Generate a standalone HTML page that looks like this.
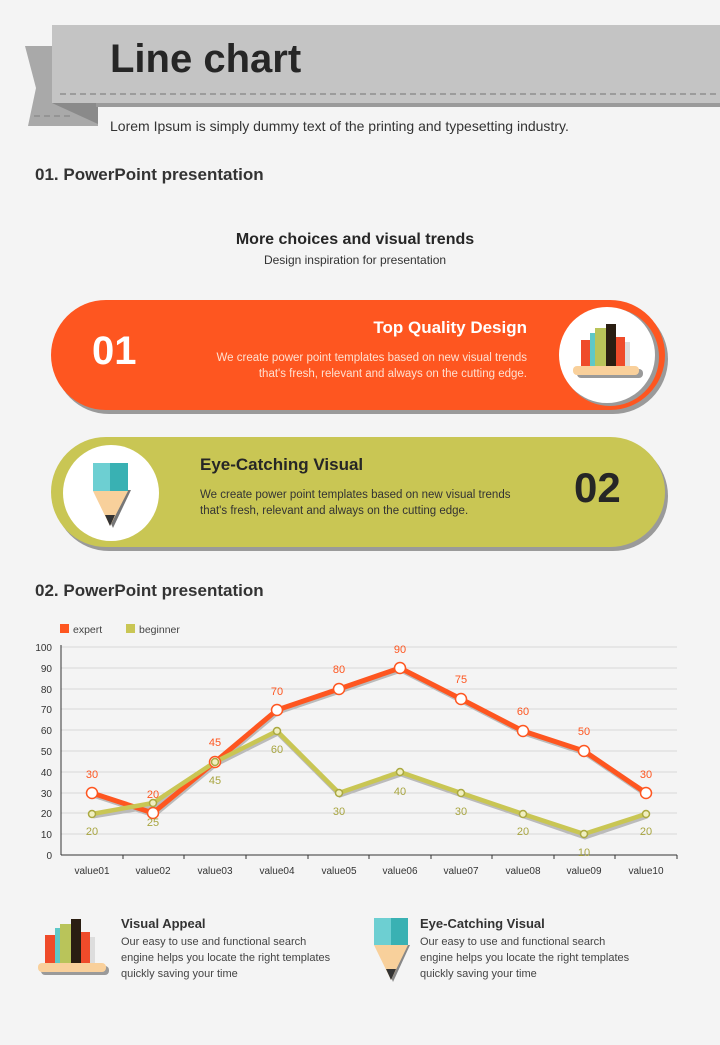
<!DOCTYPE html>
<html><head><meta charset="utf-8"><style>
body{margin:0;width:720px;height:1040px;background:#f4f4f4;font-family:"Liberation Sans",sans-serif;overflow:hidden}
</style></head><body>
<svg width="720" height="1040" xmlns="http://www.w3.org/2000/svg" font-family="Liberation Sans, sans-serif">
<rect width="720" height="1040" fill="#f4f4f4"/>
<!-- header ribbon -->
<polygon points="25,46 52,46 52,103 98,103 98,126 28,126 36,88" fill="#a9a9a9"/>
<polygon points="52,103 98,103 98,124" fill="#8a8a8a"/>
<rect x="52" y="25" width="668" height="78" fill="#c4c4c4"/>
<rect x="96" y="103" width="624" height="4" fill="#9a9a9a"/>
<line x1="60" y1="94" x2="720" y2="94" stroke="#8e8e8e" stroke-width="1.5" stroke-dasharray="6,4"/>
<line x1="34" y1="116" x2="72" y2="116" stroke="#8e8e8e" stroke-width="1.5" stroke-dasharray="6,4"/>
<text x="110" y="72" font-size="40" font-weight="bold" fill="#262626">Line chart</text>
<text x="110" y="131" font-size="14" fill="#333">Lorem Ipsum is simply dummy text of the printing and typesetting industry.</text>
<text x="35" y="180" font-size="17" font-weight="bold" fill="#333">01. PowerPoint presentation</text>
<text x="355" y="244" font-size="16" font-weight="bold" fill="#262626" text-anchor="middle">More choices and visual trends</text>
<text x="355" y="264" font-size="12" fill="#333" text-anchor="middle">Design inspiration for presentation</text>
<!-- pill 1 -->
<rect x="54" y="304" width="614" height="110" rx="55" fill="#9a9a9a"/>
<rect x="51" y="300" width="614" height="110" rx="55" fill="#fe5620"/>
<circle cx="610" cy="357" r="49" fill="#9a9a9a"/>
<circle cx="607" cy="355" r="48" fill="#fff"/>
<rect x="577" y="369" width="66" height="9" rx="4" fill="#9a9a9a"/>
<rect x="573" y="366" width="66" height="9" rx="4" fill="#f9d09b"/>
<rect x="581" y="340" width="12" height="26" fill="#ef4b2a"/>
<rect x="590" y="333" width="6" height="33" fill="#5ec8c8"/>
<rect x="595" y="328" width="11" height="38" fill="#b9c45a"/>
<rect x="606" y="324" width="10" height="42" fill="#2a1e12"/>
<rect x="616" y="337" width="9" height="29" fill="#ef4b2a"/>
<rect x="625" y="342" width="5" height="24" fill="#ddd"/>
<text x="92" y="364" font-size="40" font-weight="bold" fill="#fff">01</text>
<text x="527" y="333" font-size="17" font-weight="bold" fill="#fff" text-anchor="end">Top Quality Design</text>
<text x="527" y="361" font-size="11.5" fill="#ffe0d0" text-anchor="end">We create power point templates based on new visual trends</text>
<text x="527" y="377" font-size="11.5" fill="#ffe0d0" text-anchor="end">that's fresh, relevant and always on the cutting edge.</text>
<!-- pill 2 -->
<rect x="54" y="441" width="614" height="110" rx="55" fill="#9a9a9a"/>
<rect x="51" y="437" width="614" height="110" rx="55" fill="#c9c654"/>
<circle cx="111" cy="493" r="48" fill="#fff"/>
<polygon points="96,490 131,490 113,528" fill="#777"/>
<rect x="93" y="463" width="35" height="28" fill="#39b1b3"/>
<rect x="93" y="463" width="17" height="28" fill="#6dcfd2"/>
<polygon points="93,491 128,491 110,526" fill="#f8d09b"/>
<polygon points="105,515 115,515 110,526" fill="#333"/>
<text x="200" y="470" font-size="17" font-weight="bold" fill="#262626">Eye-Catching Visual</text>
<text x="200" y="498" font-size="11.5" fill="#333">We create power point templates based on new visual trends</text>
<text x="200" y="514" font-size="11.5" fill="#333">that's fresh, relevant and always on the cutting edge.</text>
<text x="574" y="502" font-size="42" font-weight="bold" fill="#262626">02</text>
<text x="35" y="596" font-size="17" font-weight="bold" fill="#333">02. PowerPoint presentation</text>
<!-- legend -->
<rect x="60" y="624" width="9" height="9" fill="#fe5620"/>
<text x="73" y="633" font-size="10.5" fill="#444">expert</text>
<rect x="126" y="624" width="9" height="9" fill="#c9c654"/>
<text x="139" y="633" font-size="10.5" fill="#444">beginner</text>
<!-- grid -->
<g stroke="#d8d8d8" stroke-width="1">
<line x1="61" y1="647" x2="677" y2="647"/><line x1="61" y1="668" x2="677" y2="668"/><line x1="61" y1="689" x2="677" y2="689"/><line x1="61" y1="709" x2="677" y2="709"/><line x1="61" y1="730" x2="677" y2="730"/><line x1="61" y1="751" x2="677" y2="751"/><line x1="61" y1="772" x2="677" y2="772"/><line x1="61" y1="793" x2="677" y2="793"/><line x1="61" y1="813" x2="677" y2="813"/><line x1="61" y1="834" x2="677" y2="834"/>
</g>
<line x1="61" y1="645" x2="61" y2="855" stroke="#333"/>
<line x1="61" y1="855" x2="677" y2="855" stroke="#333"/>
<g stroke="#333"><line x1="123" y1="855" x2="123" y2="859"/><line x1="184" y1="855" x2="184" y2="859"/><line x1="246" y1="855" x2="246" y2="859"/><line x1="308" y1="855" x2="308" y2="859"/><line x1="369" y1="855" x2="369" y2="859"/><line x1="431" y1="855" x2="431" y2="859"/><line x1="492" y1="855" x2="492" y2="859"/><line x1="554" y1="855" x2="554" y2="859"/><line x1="615" y1="855" x2="615" y2="859"/><line x1="677" y1="855" x2="677" y2="859"/></g>
<g font-size="10" fill="#333" text-anchor="end">
<text x="52" y="651">100</text><text x="52" y="672">90</text><text x="52" y="693">80</text><text x="52" y="713">70</text><text x="52" y="734">60</text><text x="52" y="755">50</text><text x="52" y="776">40</text><text x="52" y="797">30</text><text x="52" y="817">20</text><text x="52" y="838">10</text><text x="52" y="859">0</text>
</g>
<g font-size="10" fill="#333" text-anchor="middle">
<text x="92" y="874">value01</text><text x="153" y="874">value02</text><text x="215" y="874">value03</text><text x="277" y="874">value04</text><text x="339" y="874">value05</text><text x="400" y="874">value06</text><text x="461" y="874">value07</text><text x="523" y="874">value08</text><text x="584" y="874">value09</text><text x="646" y="874">value10</text>
</g>
<!-- shadows -->
<polyline points="93,795 154,815 216,764 278,712 340,691 401,670 462,701 524,733 585,753 647,795" fill="none" stroke="#bbb" stroke-width="5"/>
<polyline points="93,816 154,806 216,764 278,733 340,795 401,774 462,795 524,816 585,837 647,816" fill="none" stroke="#bbb" stroke-width="5"/>
<!-- expert -->
<polyline points="92,793 153,813 215,762 277,710 339,689 400,668 461,699 523,731 584,751 646,793" fill="none" stroke="#fe5620" stroke-width="5" stroke-linejoin="round"/>
<!-- beginner -->
<polyline points="92,814 153,803 215,762 277,731 339,793 400,772 461,793 523,814 584,834 646,814" fill="none" stroke="#c9c654" stroke-width="4.5" stroke-linejoin="round"/>
<g fill="#fff" stroke="#fe5620" stroke-width="1.5">
<circle cx="92" cy="793" r="5.5"/><circle cx="153" cy="813" r="5.5"/><circle cx="215" cy="762" r="5.5"/><circle cx="277" cy="710" r="5.5"/><circle cx="339" cy="689" r="5.5"/><circle cx="400" cy="668" r="5.5"/><circle cx="461" cy="699" r="5.5"/><circle cx="523" cy="731" r="5.5"/><circle cx="584" cy="751" r="5.5"/><circle cx="646" cy="793" r="5.5"/>
</g>
<g fill="#f0efc0" stroke="#aaa840" stroke-width="1.5">
<circle cx="92" cy="814" r="3.5"/><circle cx="153" cy="803" r="3.5"/><circle cx="215" cy="762" r="3.5"/><circle cx="277" cy="731" r="3.5"/><circle cx="339" cy="793" r="3.5"/><circle cx="400" cy="772" r="3.5"/><circle cx="461" cy="793" r="3.5"/><circle cx="523" cy="814" r="3.5"/><circle cx="584" cy="834" r="3.5"/><circle cx="646" cy="814" r="3.5"/>
</g>
<g font-size="11" fill="#fe5620" text-anchor="middle">
<text x="92" y="778">30</text><text x="153" y="798">20</text><text x="215" y="746">45</text><text x="277" y="695">70</text><text x="339" y="673">80</text><text x="400" y="653">90</text><text x="461" y="683">75</text><text x="523" y="715">60</text><text x="584" y="735">50</text><text x="646" y="778">30</text>
</g>
<g font-size="11" fill="#a8a540" text-anchor="middle">
<text x="92" y="835">20</text><text x="153" y="826">25</text><text x="215" y="784">45</text><text x="277" y="753">60</text><text x="339" y="815">30</text><text x="400" y="795">40</text><text x="461" y="815">30</text><text x="523" y="835">20</text><text x="584" y="856">10</text><text x="646" y="835">20</text>
</g>
<!-- bottom icons -->
<rect x="41" y="966" width="68" height="9" rx="4" fill="#9a9a9a"/>
<rect x="38" y="963" width="68" height="9" rx="4" fill="#f9d09b"/>
<rect x="45" y="935" width="12" height="28" fill="#ef4b2a"/>
<rect x="55" y="928" width="6" height="35" fill="#5ec8c8"/>
<rect x="60" y="924" width="11" height="39" fill="#b9c45a"/>
<rect x="71" y="919" width="10" height="44" fill="#2a1e12"/>
<rect x="81" y="932" width="9" height="31" fill="#ef4b2a"/>
<rect x="90" y="937" width="5" height="26" fill="#ddd"/>
<text x="121" y="928" font-size="13" font-weight="bold" fill="#333">Visual Appeal</text>
<g font-size="11" fill="#444"><text x="121" y="945">Our easy to use and functional search</text><text x="121" y="961">engine helps you locate the right templates</text><text x="121" y="977">quickly saving your time</text></g>
<polygon points="378,945 410,945 393,982" fill="#888"/>
<rect x="374" y="918" width="34" height="27" fill="#39b1b3"/>
<rect x="374" y="918" width="17" height="27" fill="#6dcfd2"/>
<polygon points="374,945 408,945 391,980" fill="#f8d09b"/>
<polygon points="386,969 396,969 391,980" fill="#333"/>
<text x="420" y="928" font-size="13" font-weight="bold" fill="#333">Eye-Catching Visual</text>
<g font-size="11" fill="#444"><text x="420" y="945">Our easy to use and functional search</text><text x="420" y="961">engine helps you locate the right templates</text><text x="420" y="977">quickly saving your time</text></g>
</svg>
</body></html>
